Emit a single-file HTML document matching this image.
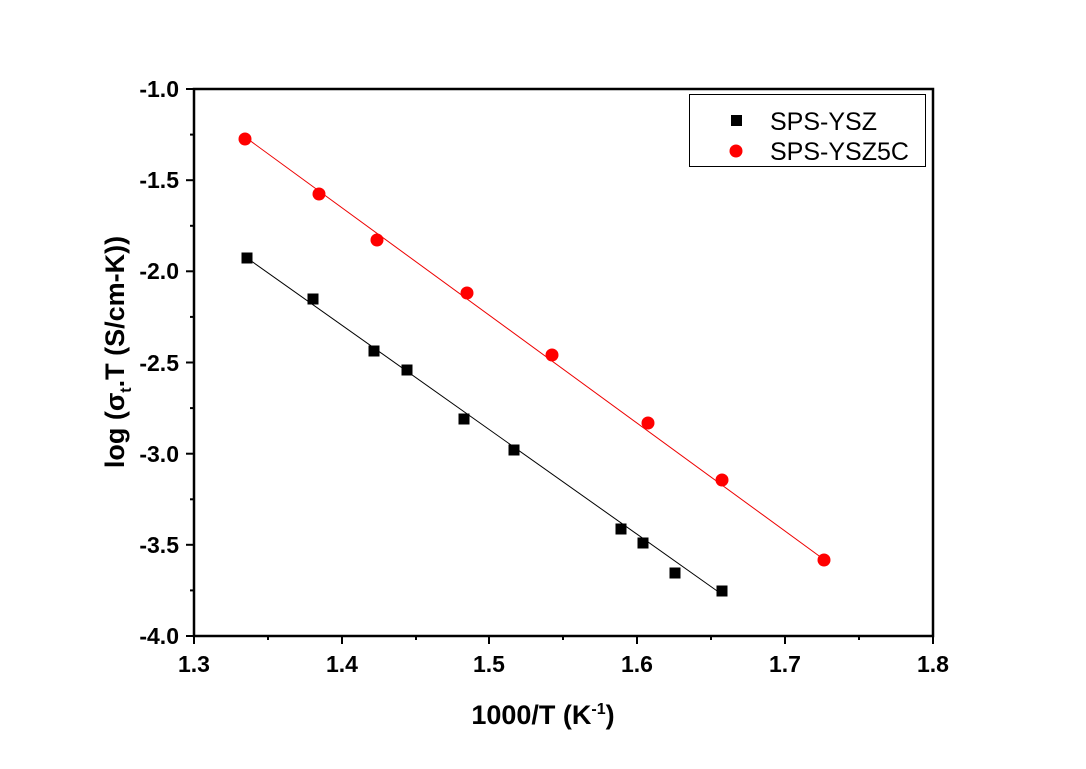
<!DOCTYPE html>
<html><head><meta charset="utf-8"><style>
html,body{margin:0;padding:0;background:#fff;}
svg{display:block;}
text{font-family:"Liberation Sans",Arial,sans-serif;}
</style></head><body>
<svg width="1086" height="769" viewBox="0 0 1086 769" xmlns="http://www.w3.org/2000/svg">
<rect width="1086" height="769" fill="#fff"/>
<rect x="194" y="89" width="739" height="547" fill="none" stroke="#000" stroke-width="2.5"/>
<g stroke="#000" stroke-width="2">
<line x1="194" y1="636" x2="194" y2="644"/><line x1="268" y1="636" x2="268" y2="640"/>
<line x1="342" y1="636" x2="342" y2="644"/><line x1="416" y1="636" x2="416" y2="640"/>
<line x1="489" y1="636" x2="489" y2="644"/><line x1="563" y1="636" x2="563" y2="640"/>
<line x1="637" y1="636" x2="637" y2="644"/><line x1="711" y1="636" x2="711" y2="640"/>
<line x1="785" y1="636" x2="785" y2="644"/><line x1="859" y1="636" x2="859" y2="640"/>
<line x1="933" y1="636" x2="933" y2="644"/>
<line x1="186" y1="89" x2="194" y2="89"/><line x1="190" y1="134.6" x2="194" y2="134.6"/>
<line x1="186" y1="180.2" x2="194" y2="180.2"/><line x1="190" y1="225.8" x2="194" y2="225.8"/>
<line x1="186" y1="271.3" x2="194" y2="271.3"/><line x1="190" y1="316.9" x2="194" y2="316.9"/>
<line x1="186" y1="362.5" x2="194" y2="362.5"/><line x1="190" y1="408.1" x2="194" y2="408.1"/>
<line x1="186" y1="453.7" x2="194" y2="453.7"/><line x1="190" y1="499.3" x2="194" y2="499.3"/>
<line x1="186" y1="544.8" x2="194" y2="544.8"/><line x1="190" y1="590.4" x2="194" y2="590.4"/>
<line x1="186" y1="636" x2="194" y2="636"/>
</g>
<g font-size="23" font-weight="bold" text-anchor="end">
<text x="179" y="97">-1.0</text><text x="179" y="188">-1.5</text><text x="179" y="279">-2.0</text>
<text x="179" y="371">-2.5</text><text x="179" y="462">-3.0</text><text x="179" y="553">-3.5</text>
<text x="179" y="644">-4.0</text>
</g>
<g font-size="23" font-weight="bold" text-anchor="middle">
<text x="194" y="672">1.3</text><text x="342" y="672">1.4</text><text x="489" y="672">1.5</text>
<text x="637" y="672">1.6</text><text x="785" y="672">1.7</text><text x="933" y="672">1.8</text>
</g>
<text x="543" y="724" font-size="27" font-weight="bold" text-anchor="middle">1000/T (K<tspan font-size="16" dy="-10">-1</tspan><tspan dy="10">)</tspan></text>
<text transform="translate(124,352) rotate(-90)" font-size="27" font-weight="bold" text-anchor="middle">log (σ<tspan font-size="16" dy="7">t</tspan><tspan dy="-7">.T (S/cm-K))</tspan></text>
<line x1="247" y1="258" x2="720" y2="593" stroke="#000" stroke-width="1"/>
<line x1="245" y1="137" x2="826" y2="561" stroke="#e00" stroke-width="1"/>
<g fill="#000">
<rect x="241.5" y="252.5" width="11" height="11"/><rect x="307.5" y="293.5" width="11" height="11"/>
<rect x="368.5" y="345.5" width="11" height="11"/><rect x="401.5" y="364.5" width="11" height="11"/>
<rect x="458.5" y="413.5" width="11" height="11"/><rect x="508.5" y="444.5" width="11" height="11"/>
<rect x="615.5" y="523.5" width="11" height="11"/><rect x="637.5" y="537.5" width="11" height="11"/>
<rect x="669.5" y="567.5" width="11" height="11"/><rect x="716.5" y="585.5" width="11" height="11"/>
</g>
<g fill="#f00">
<circle cx="245" cy="139" r="6.5"/><circle cx="319" cy="194" r="6.5"/><circle cx="377" cy="240" r="6.5"/>
<circle cx="467" cy="293" r="6.5"/><circle cx="552" cy="355" r="6.5"/><circle cx="648" cy="423" r="6.5"/>
<circle cx="722" cy="480" r="6.5"/><circle cx="824" cy="560" r="6.5"/>
</g>
<rect x="689.5" y="94.5" width="236" height="72" fill="#fff" stroke="#000" stroke-width="1"/>
<rect x="731" y="115" width="11" height="11" fill="#000"/>
<circle cx="736" cy="151" r="6.5" fill="#f00"/>
<text x="770" y="130" font-size="25">SPS-YSZ</text>
<text x="770" y="160" font-size="25">SPS-YSZ5C</text>
</svg>
</body></html>
